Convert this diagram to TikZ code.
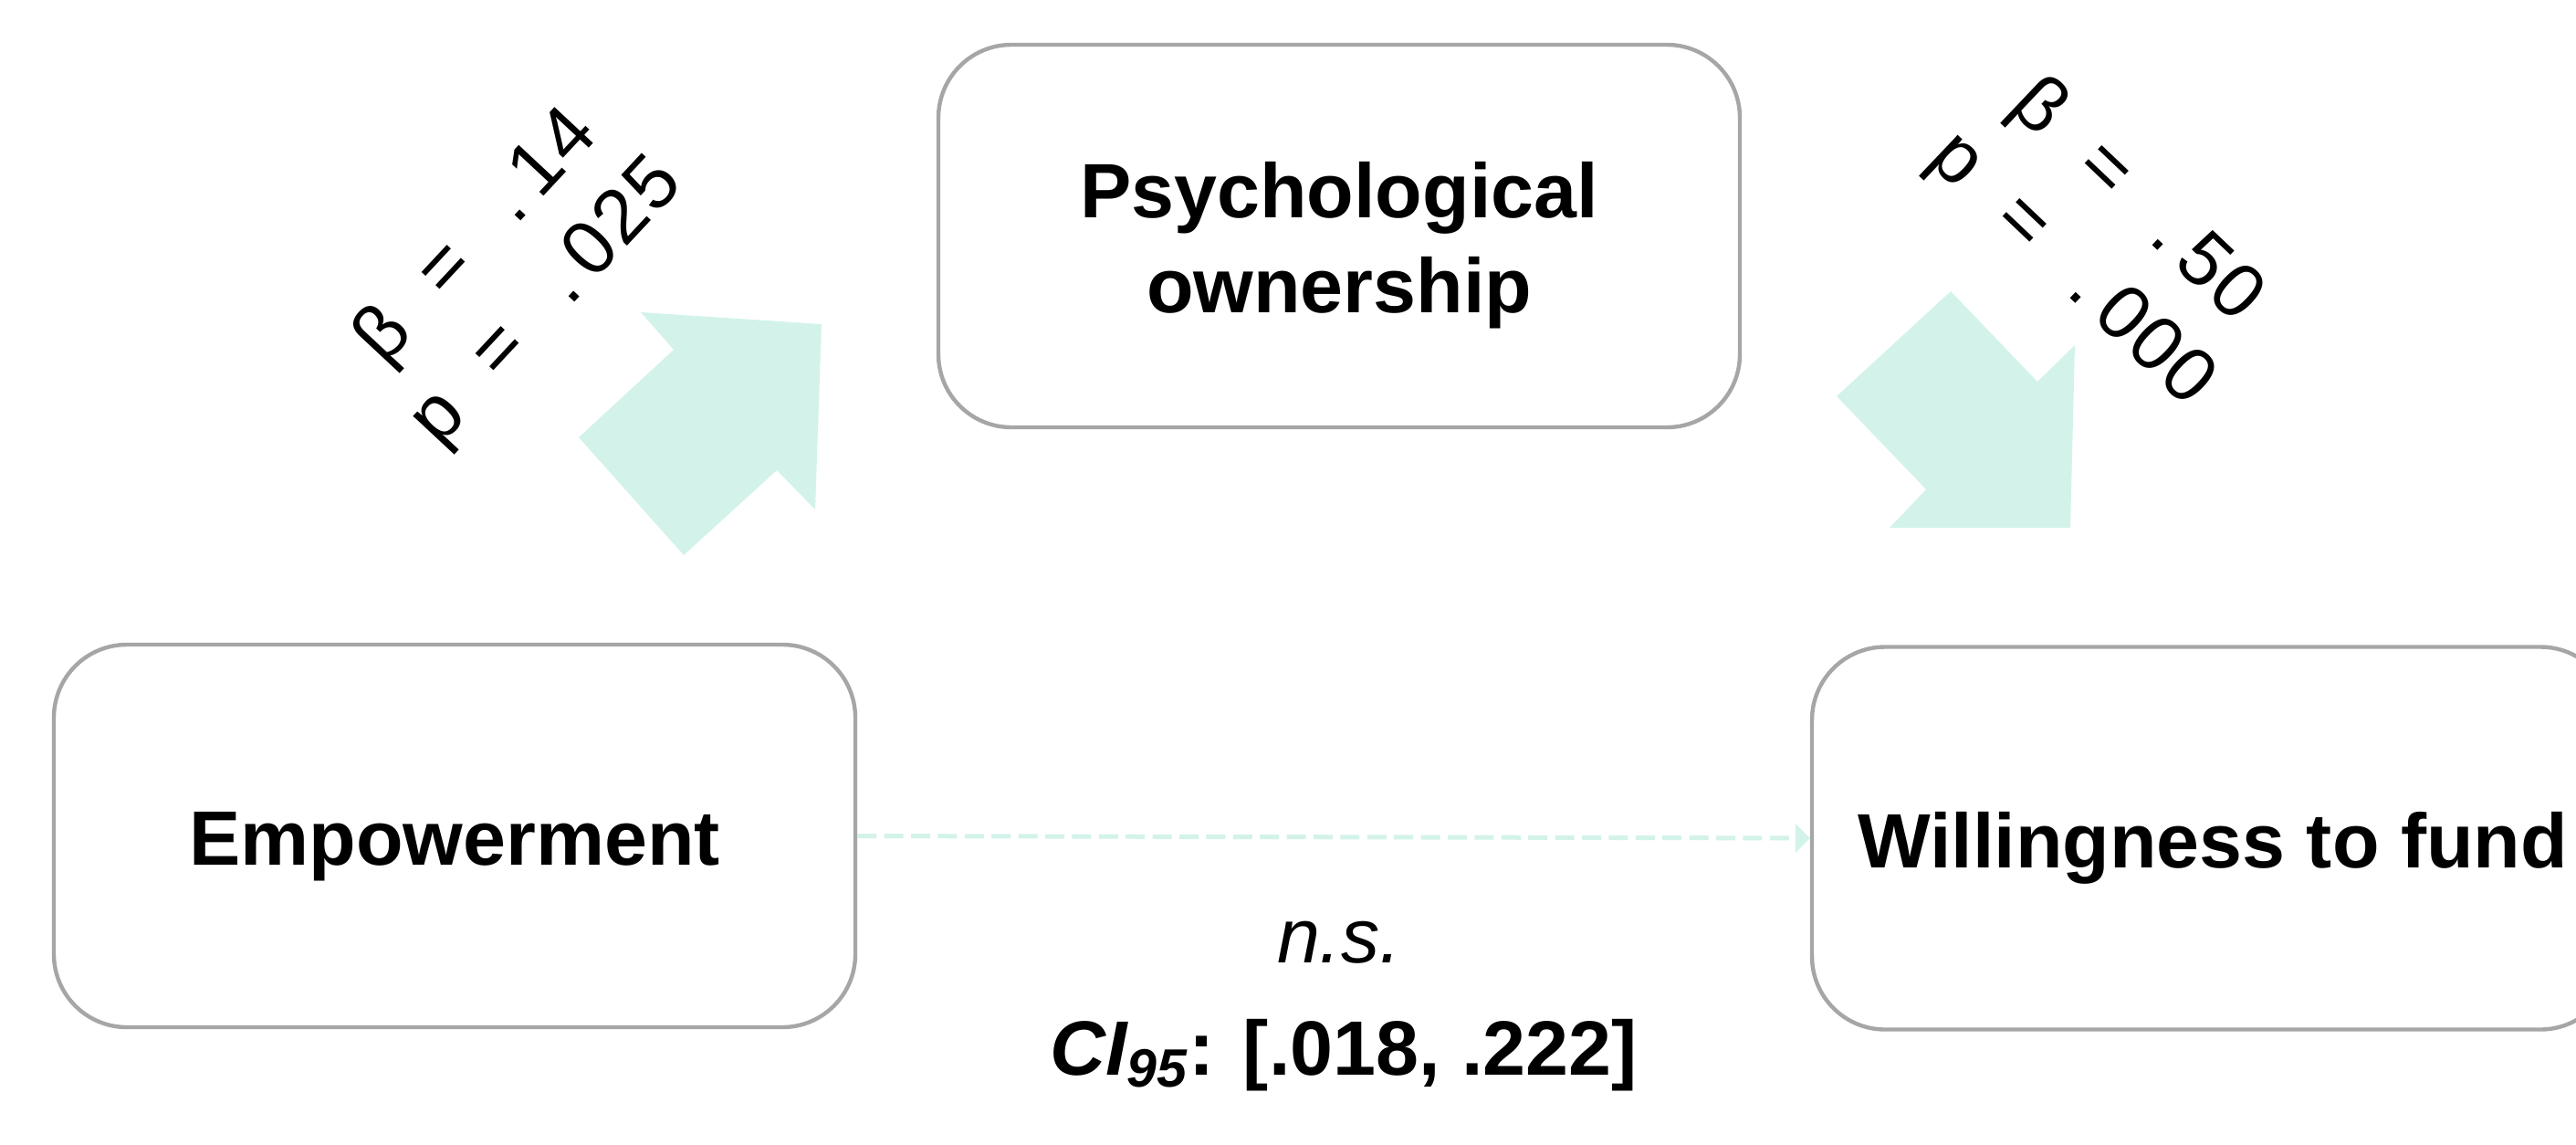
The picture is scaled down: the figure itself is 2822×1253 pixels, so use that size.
\documentclass[tikz,border=0pt]{standalone}
\usepackage{fontspec}
\setmainfont{Liberation Sans}
\usetikzlibrary{arrows.meta}
\definecolor{mint}{RGB}{211,243,234}
\definecolor{boxgray}{RGB}{166,166,166}
\newcommand\boxstrut{\rule{0pt}{20.5pt}}
\newcommand\mc[1]{\makebox[0.59em]{#1}}
\begin{document}
\begin{tikzpicture}[x=0.25pt,y=-0.25pt,
  varbox/.style={draw=boxgray, line width=1.1pt, rounded corners=20pt,
    minimum width=219.5pt, minimum height=104.75pt, align=center,
    font=\fontsize{21.1pt}{26pt}\selectfont\bfseries, inner sep=0pt},
  coef/.style={font=\fontsize{21pt}{26pt}\selectfont, align=center, inner sep=0pt},
  blockarrow/.style={fill=mint, draw=none},
  plain/.style={font=\fontsize{21.1pt}{26pt}\selectfont, inner sep=0pt},
  nsline/.style={draw=mint, line width=1.25pt, dash pattern=on 5.25pt off 2.1pt,
    -{Triangle[length=4pt,width=8pt,fill=mint,line width=0pt]}}
  ]
\useasboundingbox (0,0) rectangle (2822,1253);
\node[varbox] (po) at (1467,258.5) {\boxstrut Psychological\\ownership};
\node[varbox] (emp) at (498,915.5) {\boxstrut Empowerment};
\node[varbox] (wtf) at (2424,918) {\boxstrut Willingness to fund};
\draw[nsline] (emp.east) -- (wtf.west);
\fill[blockarrow] (702,342) -- (900,355) -- (893,558) -- (851,515) -- (749,608) -- (634,479) -- (738,383) -- cycle;
\fill[blockarrow] (2137,319) -- (2232,418) -- (2273,378) -- (2268,578) -- (2070,578) -- (2110,536) -- (2012,434) -- cycle;
\node[coef, rotate=47] (lab1) at (562,296)
  {\mc{β}\mc{}\mc{=}\mc{}\mc{.}\mc{1}\mc{4}\\\mc{p}\mc{}\mc{=}\mc{}\mc{.}\mc{0}\mc{2}\mc{5}};
\node[coef, rotate=-43.5] (lab2) at (2304,259)
  {\mc{β}\mc{}\mc{=}\mc{}\mc{.}\mc{5}\mc{0}\\\mc{p}\mc{}\mc{=}\mc{}\mc{.}\mc{0}\mc{0}\mc{0}};
\node[plain, font=\fontsize{21.1pt}{26pt}\selectfont\itshape] (ns) at (1467,1032) {n.s.};
\node[plain, font=\fontsize{21.1pt}{26pt}\selectfont\bfseries] (ci) at (1472,1156) {\textit{CI\textsubscript{95}}: [.018, .222]};
\end{tikzpicture}
\end{document}
